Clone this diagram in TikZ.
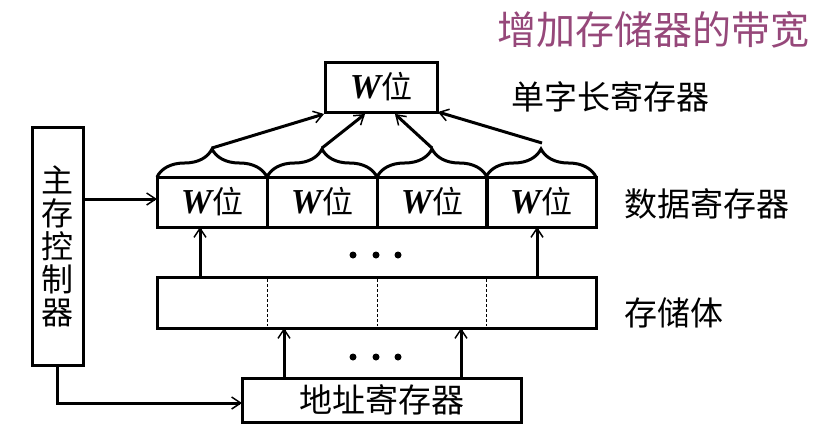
\documentclass[tikz,border=0pt]{standalone}
\usepackage{fontspec}
\setmainfont{Liberation Serif}
\newfontfamily\cjk{Noto Sans CJK SC}
\newfontfamily\wfont{Liberation Serif}
\usetikzlibrary{arrows.meta,decorations.pathreplacing,calc}
\definecolor{titlecol}{RGB}{150,72,122}
\begin{document}
\begin{tikzpicture}[x=1pt,y=-1pt,
  box/.style={draw,line width=3pt,inner sep=0pt,outer sep=0pt,font=\fontsize{31}{33}\selectfont\cjk},
  cell/.style={box,minimum width=110pt,minimum height=50pt},
  lbl/.style={anchor=west,inner sep=0pt,font=\fontsize{33}{36}\selectfont\cjk},
  arr/.style={line width=3pt,-{Straight Barb[length=9pt,width=12pt,line width=1.5pt]}},
  brc/.style={line width=3pt,decorate,decoration={brace,amplitude=28pt,raise=0pt}},
  dots/.style={circle,fill,inner sep=0pt,minimum size=7pt}
]
\useasboundingbox (0,0) rectangle (831,432);
\newcommand{\Wbit}{{\wfont\fontsize{35}{33}\selectfont\bfseries\itshape W}位}
% title
\node[anchor=west,inner sep=0pt,text=titlecol,font=\fontsize{39}{42}\selectfont\cjk] (title) at (497,30) {增加存储器的带宽};
% top register
\node[box,minimum width=112pt,minimum height=50pt] (top) at (381,87) {\Wbit};
\node[lbl] (lsingle) at (511,97) {单字长寄存器};
% data register cells
\node[cell] (c1) at (212,202) {\Wbit};
\node[cell] (c2) at (322,202) {\Wbit};
\node[cell] (c3) at (432,202) {\Wbit};
\node[cell] (c4) at (541,202) {\Wbit};
\node[lbl] (ldata) at (624,204) {数据寄存器};
% braces
\foreach \i in {1,2,3,4}{
  \draw[brc] (c\i.north west) -- (c\i.north east);
}
\coordinate (b1) at (212,148);
\coordinate (b2) at (322,148);
\coordinate (b3) at (432,148);
\coordinate (b4) at (542,143);
\draw[arr] (b1) -- ($(top.south west)+(-1,2)$);
\draw[arr] (b2) -- ($(top.south west)+(40,2)$);
\draw[arr] (b3) -- ($(top.south west)+(70,2)$);
\draw[arr] (b4) -- ($(top.south east)+(1,0)$);
% memory body
\node[box,minimum width=439pt,minimum height=51pt] (mem) at (376.5,302.5) {};
\foreach \x in {267,377,486}{
  \draw[line width=0.8pt,dash pattern=on 3pt off 2pt] (\x,279) -- (\x,326);
}
\node[lbl] (lmem) at (624,313) {存储体};
% arrows mem -> data
\draw[arr] (mem.north -| 200,0) -- (c1.south -| 200,0);
\draw[arr] (mem.north -| 537,0) -- (c4.south -| 537,0);
\node[dots] (d1) at (353,255) {};
\node[dots] (d2) at (376,255) {};
\node[dots] (d3) at (398,255) {};
% address register
\node[box,minimum width=279pt,minimum height=44pt,font=\fontsize{33}{35}\selectfont\cjk] (addr) at (381.5,400) {地址寄存器};
\draw[arr] (addr.north -| 284,0) -- (mem.south -| 284,0);
\draw[arr] (addr.north -| 461,0) -- (mem.south -| 461,0);
\node[dots] (e1) at (353,357) {};
\node[dots] (e2) at (376,357) {};
\node[dots] (e3) at (398,357) {};
% controller
\node[box,minimum width=51pt,minimum height=238pt,align=center,font=\fontsize{32}{33}\selectfont\cjk] (ctrl) at (57.5,246) {主\\存\\控\\制\\器};
\draw[arr] (ctrl.east |- 0,199) -- (c1.west |- 0,199);
\draw[arr] (ctrl.south -| 57,0) |- (addr.west |- 0,403);
\end{tikzpicture}
\end{document}
